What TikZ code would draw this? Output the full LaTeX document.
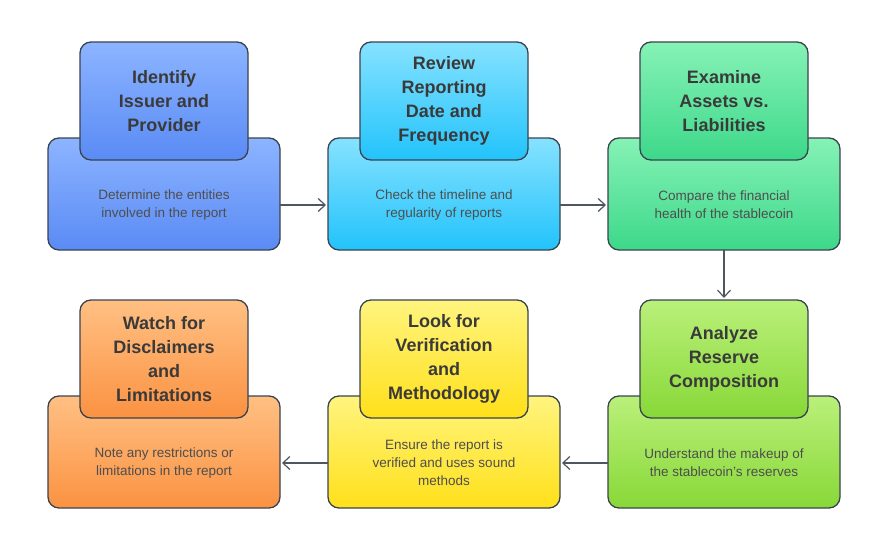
\documentclass[tikz,border=0pt]{standalone}
\usepackage{fontspec}
\setmainfont{Liberation Sans}
\usetikzlibrary{arrows.meta}
\definecolor{edge}{HTML}{3A4450}
\definecolor{tx}{HTML}{3A3A3A}
\begin{document}
\begin{tikzpicture}[x=1pt,y=-1pt,
 box/.style={draw=edge,line width=1.3pt,rounded corners=11pt},
 ttl/.style={font=\fontsize{18}{24}\selectfont\bfseries,text=tx,align=center},
 bod/.style={font=\fontsize{13.5}{18}\selectfont,text=tx!90,align=center},
 arr/.style={draw=edge!90,line width=1.2pt,-{Straight Barb[length=7pt,width=13pt]},shorten >=2pt}]
\useasboundingbox (0,0) rectangle (888,559);
\fill[white] (0,0) rectangle (888,559);
\def\card#1#2#3#4#5#6#7{%
 \definecolor{ct#1}{HTML}{#4}\definecolor{cb#1}{HTML}{#5}%
 \shade[box,top color=ct#1,bottom color=cb#1] (#2,#3+96) rectangle (#2+232,#3+208);
 \shade[box,top color=ct#1,bottom color=cb#1] (#2+32,#3) rectangle (#2+200,#3+118);
 \node[ttl] (#1t) at (#2+116,#3+59) {#6};
 \node[bod] (#1) at (#2+116,#3+163) {#7};
 \coordinate (#1L) at (#2,#3+163);
 \coordinate (#1R) at (#2+232,#3+163);
 \coordinate (#1T) at (#2+116,#3);
 \coordinate (#1B) at (#2+116,#3+208);}
\card{a}{48}{42}{8CB4FF}{5A8BF5}{Identify\\Issuer and\\Provider}{Determine the entities\\involved in the report}
\card{b}{328}{42}{86E2FF}{22C3FB}{Review\\Reporting\\Date and\\Frequency}{Check the timeline and\\regularity of reports}
\card{c}{608}{42}{86F2B6}{3DD88A}{Examine\\Assets vs.\\Liabilities}{Compare the financial\\health of the stablecoin}
\card{d}{608}{300}{BAF07A}{88D838}{Analyze\\Reserve\\Composition}{Understand the makeup of\\the stablecoin's reserves}
\card{e}{328}{300}{FFF47E}{FFE01A}{Look for\\Verification\\and\\Methodology}{Ensure the report is\\verified and uses sound\\methods}
\card{f}{48}{300}{FFC083}{FB9242}{Watch for\\Disclaimers\\and\\Limitations}{Note any restrictions or\\limitations in the report}
\draw[arr] (aR) -- (bL);
\draw[arr] (bR) -- (cL);
\draw[arr] (cB) -- (dT);
\draw[arr] (dL) -- (eR);
\draw[arr] (eL) -- (fR);
\end{tikzpicture}
\end{document}
